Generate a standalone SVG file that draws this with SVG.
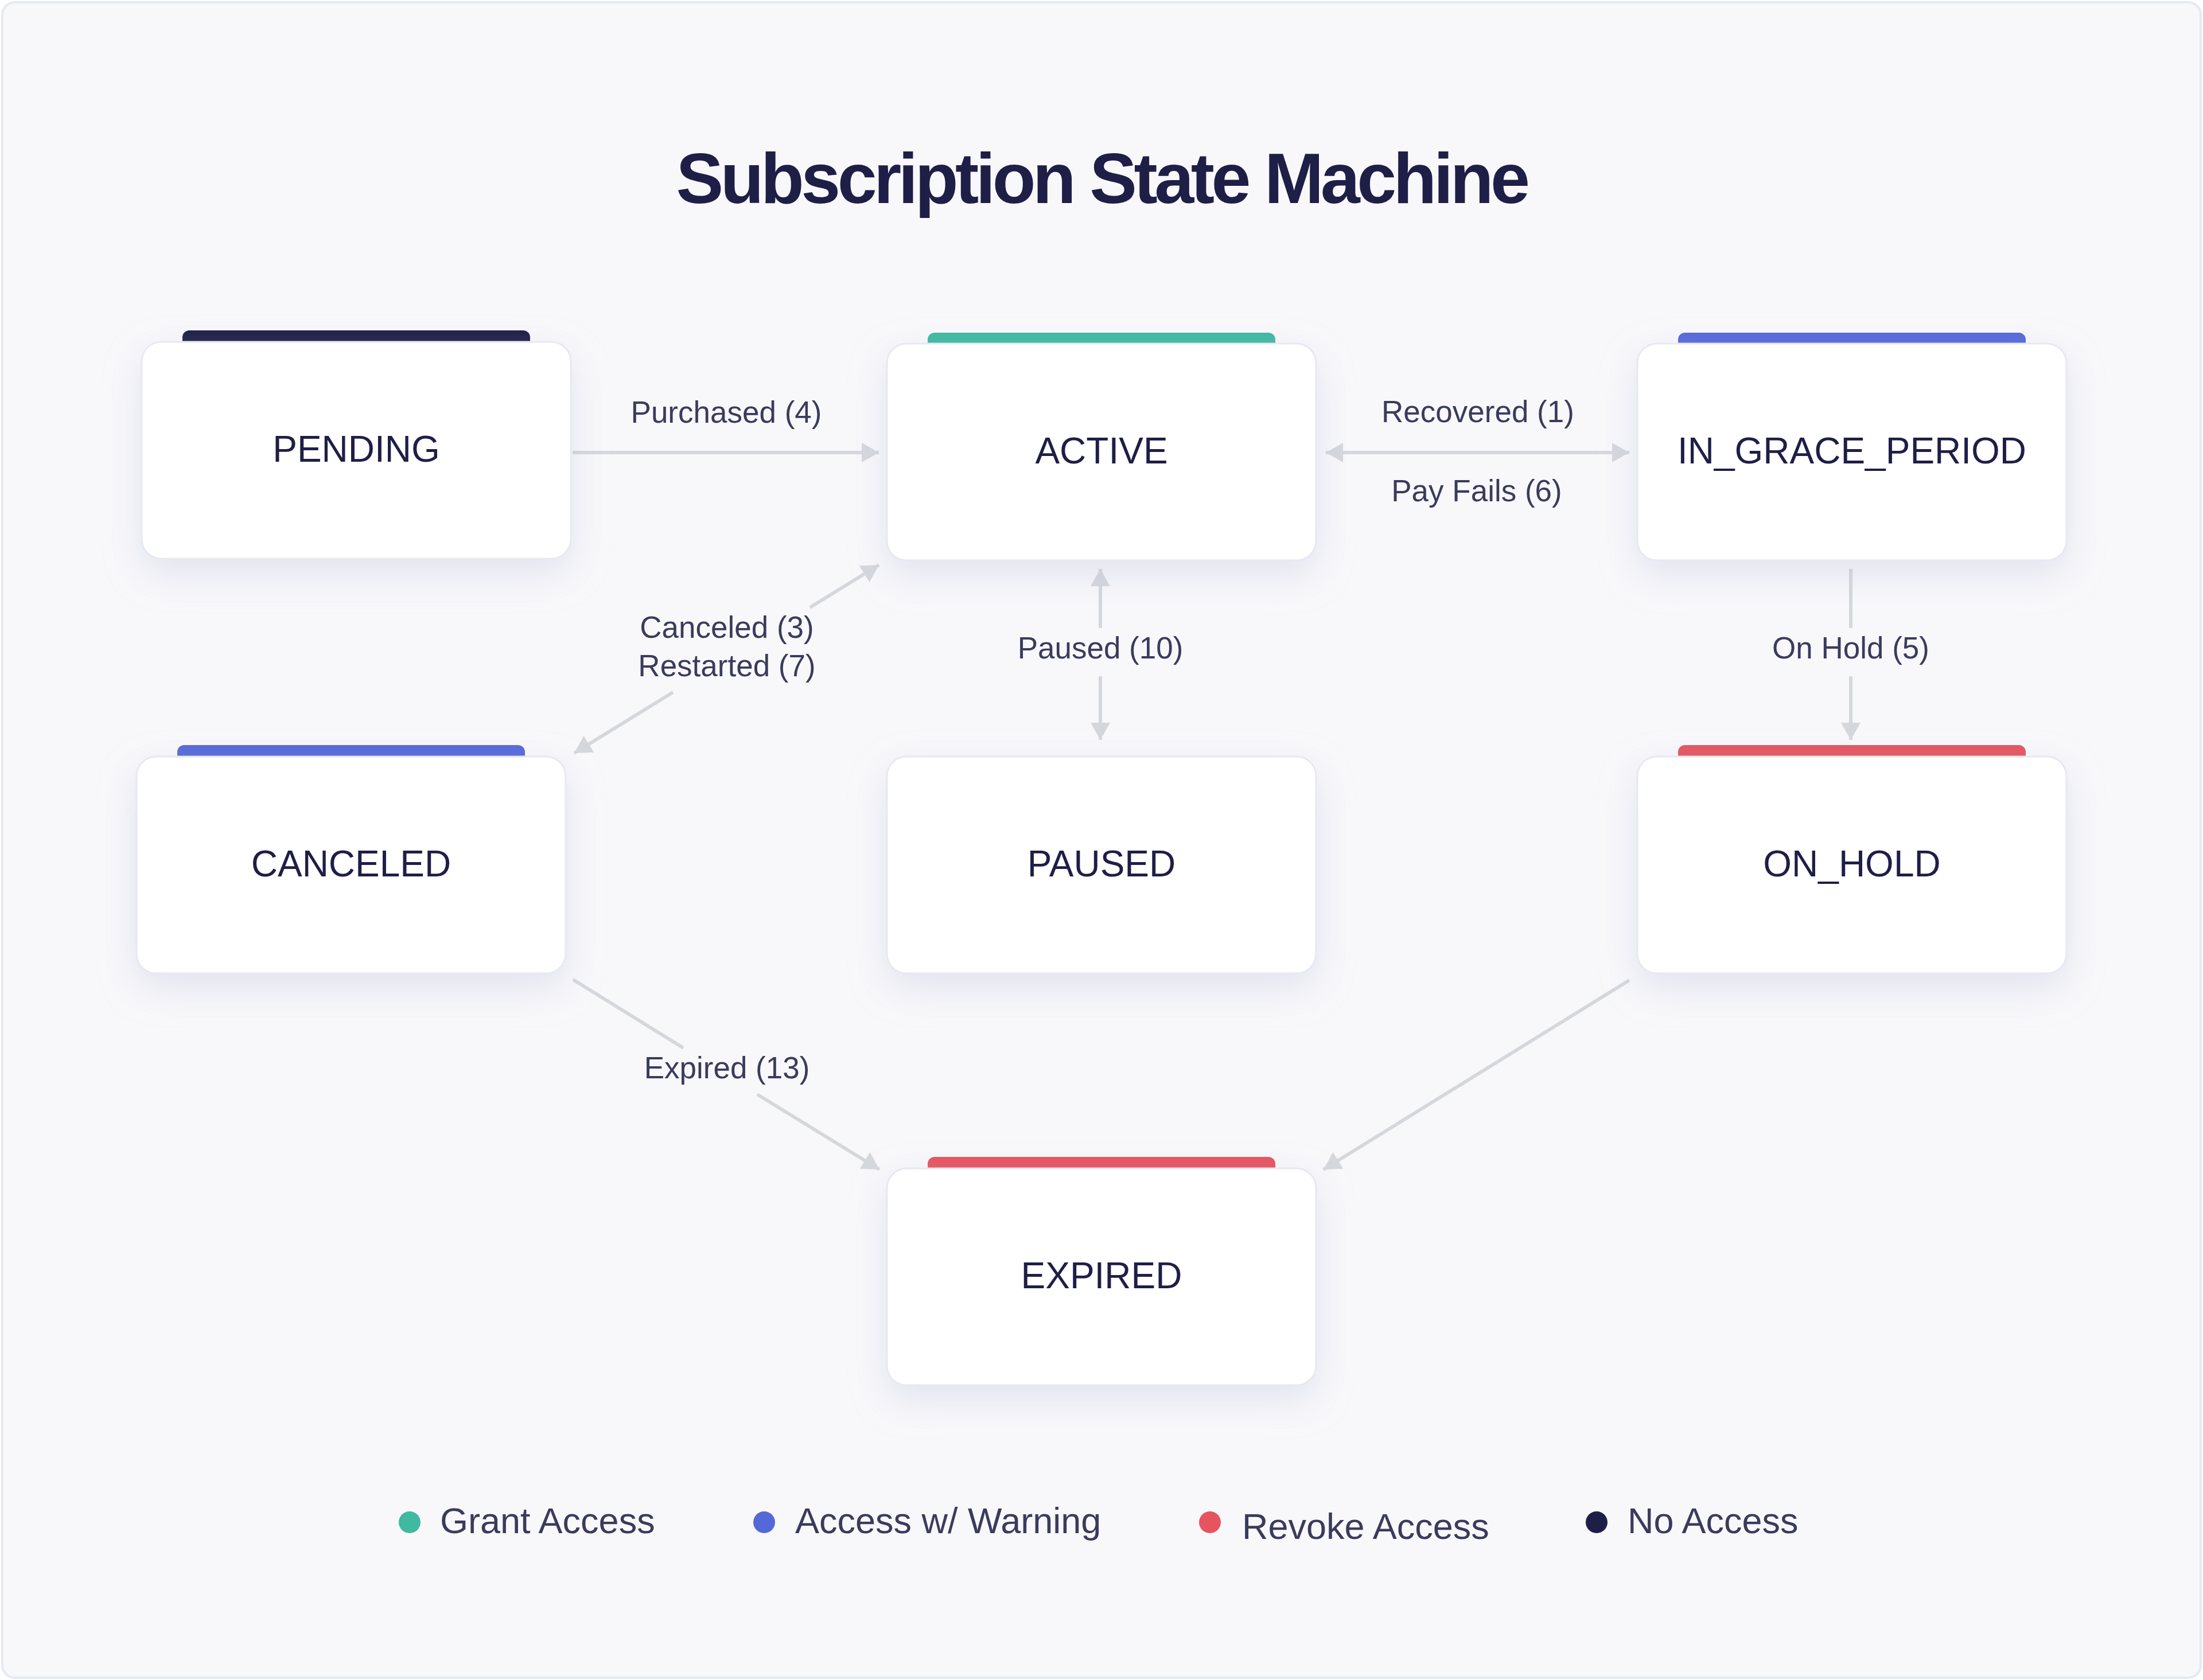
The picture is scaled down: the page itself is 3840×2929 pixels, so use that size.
<svg xmlns="http://www.w3.org/2000/svg" width="3840" height="2929" viewBox="0 0 3840 2929">
<defs>
<style>
.node-box{fill:#ffffff;stroke:#e7e8f2;stroke-width:3;filter:url(#shadow)}
.node-label{font-family:"Liberation Sans",Arial,sans-serif;font-size:64px;fill:#1f1e47;text-anchor:middle}
.edge{stroke:#d4d7dc;stroke-width:6;fill:none}
.edge-label{font-family:"Liberation Sans",Arial,sans-serif;font-size:53px;fill:#3a3b5c;text-anchor:middle}
.legend-label{font-family:"Liberation Sans",Arial,sans-serif;font-size:63px;fill:#3a3b5c}
.title{font-family:"Liberation Sans",Arial,sans-serif;font-size:124px;font-weight:700;letter-spacing:-5.5px;fill:#1f1e47;text-anchor:middle}
</style>
<filter id="shadow" x="-20%" y="-20%" width="140%" height="150%">
<feDropShadow dx="0" dy="24" stdDeviation="32" flood-color="#b9bbd6" flood-opacity="0.35"/>
</filter>
<marker id="arrow" markerUnits="userSpaceOnUse" markerWidth="32" markerHeight="36" refX="30" refY="17" orient="auto-start-reverse" viewBox="0 0 32 36">
<path d="M0,0 L30,17 L0,34 z" fill="#d4d7dc"/>
</marker>
</defs>

<rect x="0" y="0" width="3840" height="2929" fill="#ffffff"/>
<rect x="4" y="4" width="3832" height="2921" rx="22" fill="#f8f8fb" stroke="#e6e8f2" stroke-width="4"/>

<text class="title" x="1920" y="354">Subscription State Machine</text>

<g id="connectors">
<line class="edge" x1="998" y1="789" x2="1532" y2="789" marker-end="url(#arrow)"/>
<line class="edge" x1="2311" y1="789" x2="2840" y2="789" marker-start="url(#arrow)" marker-end="url(#arrow)"/>
<line class="edge" x1="1918" y1="992" x2="1918" y2="1095" marker-start="url(#arrow)"/>
<line class="edge" x1="1918" y1="1179" x2="1918" y2="1290" marker-end="url(#arrow)"/>
<line class="edge" x1="3226" y1="992" x2="3226" y2="1095"/>
<line class="edge" x1="3226" y1="1179" x2="3226" y2="1290" marker-end="url(#arrow)"/>
<line class="edge" x1="1412" y1="1059" x2="1532" y2="985" marker-end="url(#arrow)"/>
<line class="edge" x1="1173" y1="1207" x2="1001" y2="1313" marker-end="url(#arrow)"/>
<line class="edge" x1="999" y1="1708" x2="1191" y2="1827"/>
<line class="edge" x1="1320" y1="1908" x2="1533" y2="2039" marker-end="url(#arrow)"/>
<line class="edge" x1="2840" y1="1709" x2="2307" y2="2039" marker-end="url(#arrow)"/>
<text class="edge-label" x="1266" y="737">Purchased (4)</text>
<text class="edge-label" x="2576" y="736">Recovered (1)</text>
<text class="edge-label" x="2574" y="874">Pay Fails (6)</text>
<text class="edge-label" x="1918" y="1148">Paused (10)</text>
<text class="edge-label" x="3226" y="1148">On Hold (5)</text>
<text class="edge-label" x="1267" y="1112">Canceled (3)</text>
<text class="edge-label" x="1267" y="1179">Restarted (7)</text>
<text class="edge-label" x="1267" y="1880">Expired (13)</text>
</g>

<g id="node-pending">
<rect x="318" y="576" width="606" height="34" rx="12" fill="#1f1e47"/>
<rect class="node-box" x="247" y="596" width="748" height="378" rx="34"/>
<text class="node-label" x="621" y="805">PENDING</text>
</g>

<g id="node-active">
<rect x="1617" y="580" width="606" height="34" rx="12" fill="#3fb9a0"/>
<rect class="node-box" x="1546" y="599" width="748" height="378" rx="34"/>
<text class="node-label" x="1920" y="808">ACTIVE</text>
</g>

<g id="node-in-grace-period">
<rect x="2925" y="580" width="606" height="34" rx="12" fill="#5568d8"/>
<rect class="node-box" x="2854" y="599" width="748" height="378" rx="34"/>
<text class="node-label" x="3228" y="808">IN_GRACE_PERIOD</text>
</g>

<g id="node-canceled">
<rect x="309" y="1299" width="606" height="34" rx="12" fill="#5568d8"/>
<rect class="node-box" x="238" y="1319" width="748" height="378" rx="34"/>
<text class="node-label" x="612" y="1528">CANCELED</text>
</g>

<g id="node-paused">
<rect class="node-box" x="1546" y="1319" width="748" height="378" rx="34"/>
<text class="node-label" x="1920" y="1528">PAUSED</text>
</g>

<g id="node-on-hold">
<rect x="2925" y="1299" width="606" height="34" rx="12" fill="#e65460"/>
<rect class="node-box" x="2854" y="1319" width="748" height="378" rx="34"/>
<text class="node-label" x="3228" y="1528">ON_HOLD</text>
</g>

<g id="node-expired">
<rect x="1617" y="2017" width="606" height="34" rx="12" fill="#e65460"/>
<rect class="node-box" x="1546" y="2037" width="748" height="378" rx="34"/>
<text class="node-label" x="1920" y="2246">EXPIRED</text>
</g>

<g id="legend">
<circle cx="714" cy="2654" r="19" fill="#3fb9a0"/>
<text class="legend-label" x="767" y="2673">Grant Access</text>
<circle cx="1332" cy="2654" r="19" fill="#5568d8"/>
<text class="legend-label" x="1386" y="2673">Access w/ Warning</text>
<circle cx="2109" cy="2654" r="19" fill="#e65460"/>
<text class="legend-label" x="2165" y="2683">Revoke Access</text>
<circle cx="2783" cy="2654" r="19" fill="#1f1e47"/>
<text class="legend-label" x="2837" y="2673">No Access</text>
</g>
</svg>
